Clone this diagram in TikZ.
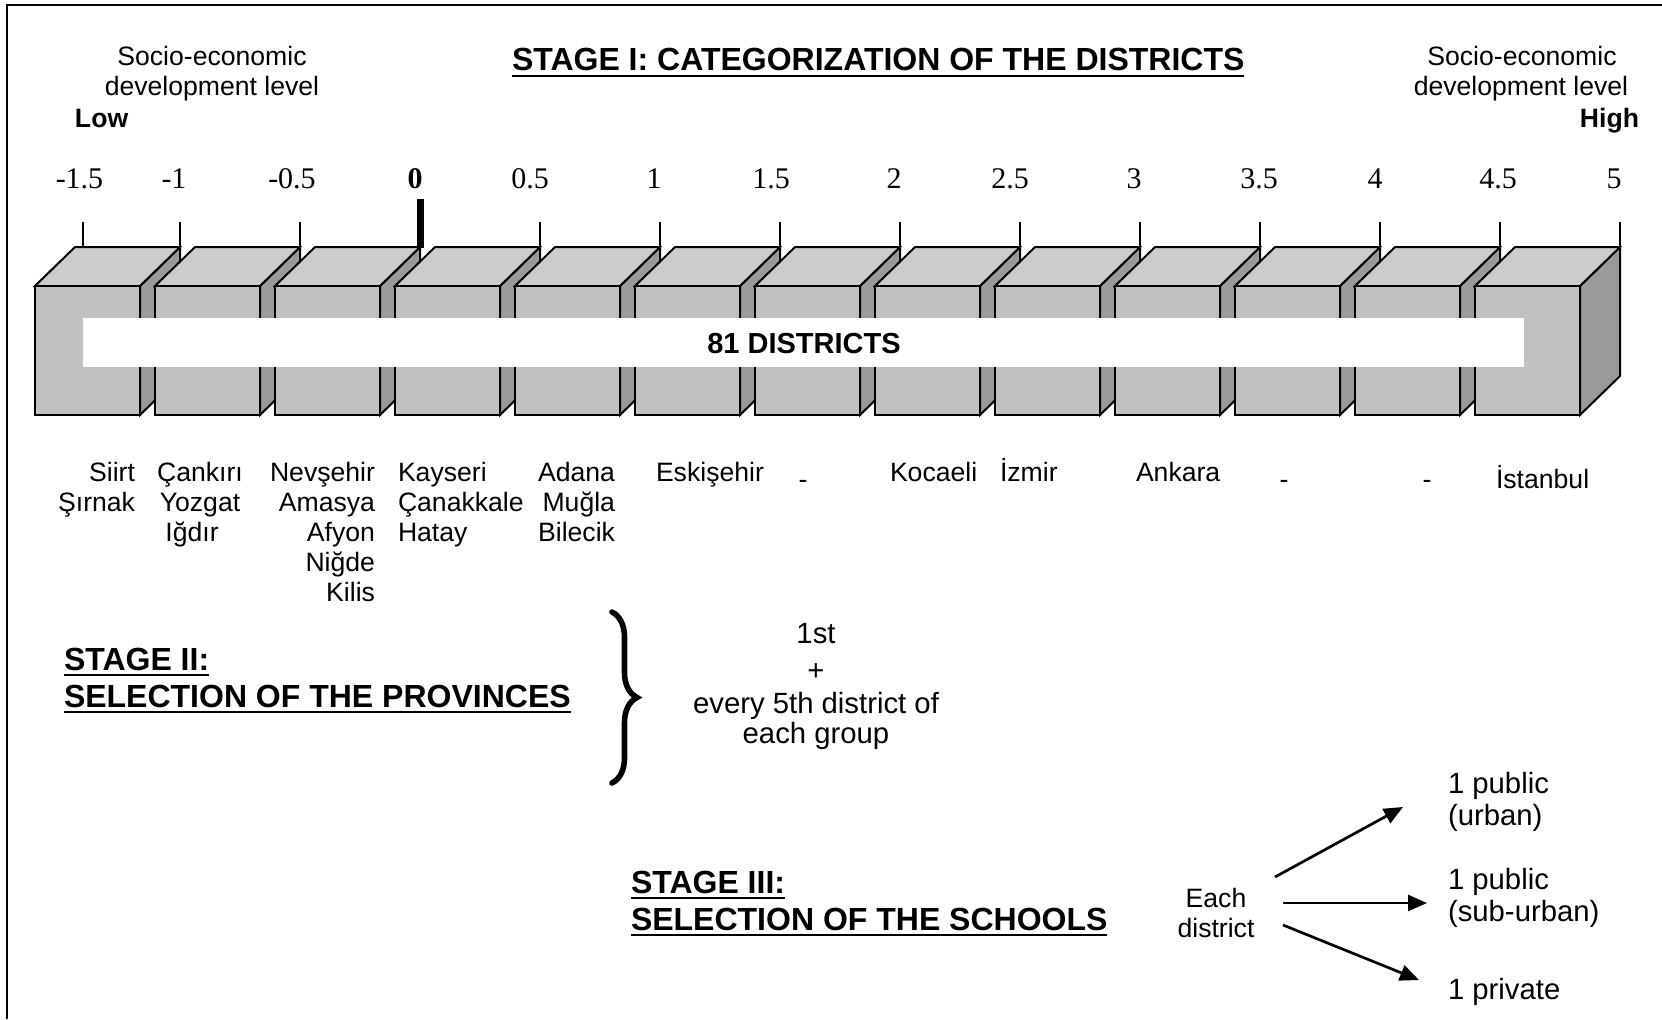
\documentclass[tikz,border=0pt]{standalone}
\usepackage{fontspec}
\setmainfont{Liberation Sans}
\newfontfamily\numfont{Liberation Serif}
\usetikzlibrary{arrows.meta,decorations.pathreplacing}

\definecolor{frontgray}{HTML}{C0C0C0}
\definecolor{topgray}{HTML}{CCCCCC}
\definecolor{sidegray}{HTML}{9A9A9A}

\begin{document}
\begin{tikzpicture}[x=0.5pt,y=-0.5pt,
  every node/.style={inner sep=0pt, outer sep=0pt},
  txt/.style={font=\fontsize{13.3}{15}\selectfont},
  txtb/.style={font=\bfseries\fontsize{13.3}{15}\selectfont},
  txtl/.style={font=\fontsize{14.65}{16}\selectfont},
  head/.style={font=\bfseries\fontsize{16}{18}\selectfont},
  num/.style={font=\numfont\fontsize{15}{17}\selectfont},
  uline/.style={line width=1.4pt},
  edge/.style={line width=1pt, line join=miter},
  tickline/.style={line width=0.75pt},
  flow/.style={line width=1.35pt, -{Triangle[length=9.5pt,width=8pt]}},
]
\useasboundingbox (0,0) rectangle (1662,1019);
\fill[white] (0,0) rectangle (1662,1019);

% outer frame
\draw[line width=1pt] (7,1019) -- (7,5) -- (1662,5);

% scale ticks
\foreach \x in {83,180,300,...,1620}
  \draw[tickline] (\x,222) -- (\x,247);
\fill (416.5,199) rectangle (423.5,248);

% the row of thirteen 3-D blocks
\foreach \i in {0,...,12} {
  \pgfmathsetmacro\xa{35+120*\i}
  \pgfmathsetmacro\xb{\xa+105}
  \filldraw[edge, fill=sidegray] (\xb,286) -- (\xb+40,247) -- (\xb+40,376) -- (\xb,415) -- cycle;
  \filldraw[edge, fill=topgray] (\xa,286) -- (\xa+40,247) -- (\xb+40,247) -- (\xb,286) -- cycle;
  \filldraw[edge, fill=frontgray] (\xa,286) rectangle (\xb,415);
}

% white band across the blocks
\fill[white] (83,318) rectangle (1524,367);
\node[font=\bfseries\fontsize{14.5}{16}\selectfont] (all) at (804,344) {81 DISTRICTS};

% scale numbers
\foreach \x/\v [count=\k] in {79.5/-1.5, 174/-1, 292/-0.5, 530/0.5, 654/1, 771/1.5,
    894/2, 1010/2.5, 1134/3, 1259/3.5, 1375/4, 1498/4.5, 1614/5}
  \node[num, anchor=base] (num\k) at (\x,188) {\v};
\node[num, anchor=base, font=\numfont\bfseries\fontsize{15}{17}\selectfont] (zero) at (415,188) {0};

% level captions
\node[txt, anchor=base] (lowa) at (212,65) {Socio-economic};
\node[txt, anchor=base] (lowb) at (212,95) {development level};
\node[txtb, anchor=base west] (low) at (75,127) {Low};
\node[txt, anchor=base] (higha) at (1522,65) {Socio-economic};
\node[txt, anchor=base] (highb) at (1521,95) {development level};
\node[txtb, anchor=base east] (high) at (1639,127) {High};

% stage I heading
\node[head, anchor=base west] (st1) at (512,70) {STAGE I: CATEGORIZATION OF THE DISTRICTS};
\draw[uline] ([yshift=-3pt]st1.base west) -- ([yshift=-3pt]st1.base east);

% district names under each block
\foreach \x/\y/\t [count=\k] in {135/481/Siirt, 135/511/Şırnak}
  \node[txt, anchor=base east] (ca\k) at (\x,\y) {\t};
\foreach \x/\y/\t [count=\k] in {200/481/Çankırı, 200/511/Yozgat, 192/541/Iğdır}
  \node[txt, anchor=base] (cb\k) at (\x,\y) {\t};
\foreach \x/\y/\t [count=\k] in {375/481/Nevşehir, 375/511/Amasya, 375/541/Afyon,
    375/571/Niğde, 375/601/Kilis}
  \node[txt, anchor=base east] (cc\k) at (\x,\y) {\t};
\foreach \x/\y/\t [count=\k] in {398/481/Kayseri, 398/511/Çanakkale, 398/541/Hatay}
  \node[txt, anchor=base west] (cd\k) at (\x,\y) {\t};
\foreach \x/\y/\t [count=\k] in {615/481/Adana, 615/511/Muğla, 615/541/Bilecik}
  \node[txt, anchor=base east] (ce\k) at (\x,\y) {\t};
\foreach \x/\y/\t [count=\k] in {656/481/Eskişehir, 890/481/Kocaeli, 1000/481/İzmir,
    1136/481/Ankara, 1496/488/İstanbul}
  \node[txt, anchor=base west] (cf\k) at (\x,\y) {\t};
\foreach \x [count=\k] in {803,1284,1427}
  \node[txt, anchor=base] (dash\k) at (\x,488) {-};

% stage II
\node[head, anchor=base west] (st2a) at (64,670) {STAGE II:};
\node[head, anchor=base west] (st2b) at (64,707) {SELECTION OF THE PROVINCES};
\draw[uline] ([yshift=-2.5pt]st2a.base west) -- ([yshift=-2.5pt]st2a.base east);
\draw[uline] ([yshift=-2.5pt]st2b.base west) -- ([yshift=-2.5pt]st2b.base east);

\coordinate (bracetop) at (612,612);
\coordinate (bracebot) at (612,783);
\draw[line width=2.8pt, line cap=round, decorate, decoration={brace, amplitude=12.5pt}] (bracetop) -- (bracebot);

\node[txtl, anchor=base] (rule1) at (816,643) {1st};
\node[txtl] (rule2) at (816,672) {+};
\node[txtl, anchor=base] (rule3) at (816,713) {every 5th district of};
\node[txtl, anchor=base] (rule4) at (816,743) {each group};

% stage III
\node[head, anchor=base west] (st3a) at (631,893) {STAGE III:};
\node[head, anchor=base west] (st3b) at (631,930) {SELECTION OF THE SCHOOLS};
\draw[uline] ([yshift=-2.5pt]st3a.base west) -- ([yshift=-2.5pt]st3a.base east);
\draw[uline] ([yshift=-2.5pt]st3b.base west) -- ([yshift=-2.5pt]st3b.base east);

\node[txt, anchor=base] (eacha) at (1216,907) {Each};
\node[txt, anchor=base] (eachb) at (1216,937) {district};

\node[txtl, anchor=base west] (pu1) at (1448,793) {1 public};
\node[txtl, anchor=base west] (pu1b) at (1448,825) {(urban)};
\node[txtl, anchor=base west] (pu2) at (1448,889) {1 public};
\node[txtl, anchor=base west] (pu2b) at (1448,921) {(sub-urban)};
\node[txtl, anchor=base west] (pr) at (1448,999) {1 private};

\coordinate (s1) at (1275,877);
\coordinate (e1) at (1403,807);
\coordinate (s2) at (1283,903);
\coordinate (e2) at (1427,903);
\coordinate (s3) at (1283,925);
\coordinate (e3) at (1419,980);
\draw[flow] (s1) -- (e1);
\draw[flow] (s2) -- (e2);
\draw[flow] (s3) -- (e3);
\end{tikzpicture}
\end{document}
